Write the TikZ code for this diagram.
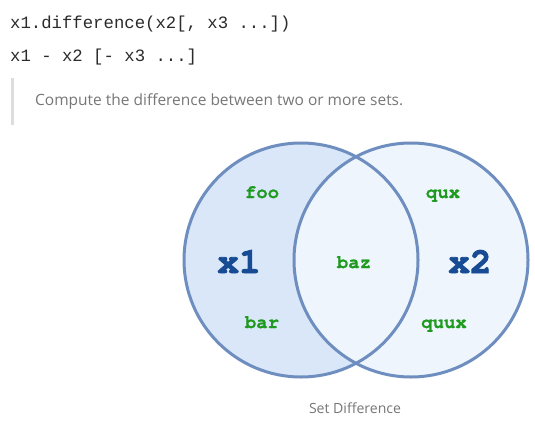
\documentclass[tikz,border=0pt]{standalone}
\usepackage{fontspec}
\setmonofont{Liberation Mono}
\setsansfont{Open Sans}
\newfontfamily\courierfont[BoldFeatures={FakeBold=0.8}]{TeX Gyre Cursor}
\newfontfamily\courierheavy[BoldFeatures={FakeBold=2.5}]{TeX Gyre Cursor}
\definecolor{codetext}{HTML}{2B2B2B}
\definecolor{desctext}{HTML}{777777}
\definecolor{barcol}{HTML}{DDDDDD}
\definecolor{leftfill}{HTML}{DAE7F9}
\definecolor{rightfill}{HTML}{EEF5FD}
\definecolor{ringcol}{HTML}{6E8EC0}
\definecolor{elemcol}{HTML}{1E9A1E}
\definecolor{setcol}{HTML}{174B94}
\tikzset{
  codeline/.style={anchor=west, inner sep=0pt, text=codetext, font=\ttfamily\fontsize{17.3}{20}\selectfont},
  elem/.style={inner sep=0pt, anchor=base, text=elemcol, font=\courierfont\bfseries\fontsize{19}{22}\selectfont},
  setname/.style={inner sep=0pt, anchor=base, text=setcol, font=\courierheavy\bfseries\fontsize{36}{40}\selectfont},
  ring/.style={draw=ringcol, line width=3pt},
}
\begin{document}
\begin{tikzpicture}[x=1pt,y=-1pt]
\useasboundingbox (0,0) rectangle (535,425);
\fill[white] (0,0) rectangle (535,425);
% code lines
\node[codeline] (sig) at (10,24) {x1.difference(x2[, x3 ...])};
\node[codeline] (op) at (10,57) {x1 - x2 [- x3 ...]};
% quote bar and description
\fill[barcol] (11,78) rectangle (14,125);
\node[anchor=west, inner sep=0pt, text=desctext] (desc) at (35,101)
  {\resizebox{368pt}{!}{\sffamily Compute the difference between two or more sets.}};
% circles
\fill[leftfill] (301,260) circle (117);
\fill[rightfill] (411,260) circle (117);
\draw[ring] (301,260) circle (117);
\draw[ring] (411,260) circle (117);
% labels
\node[elem] (foo) at (262,198) {foo};
\node[elem] (bar) at (262,328) {bar};
\node[elem] (baz) at (354,268) {baz};
\node[elem] (qux) at (443,198) {qux};
\node[elem] (quux) at (444,328) {quux};
\node[setname] (x1) at (239,273) {x1};
\node[setname] (x2) at (470,273) {x2};
\node[inner sep=0pt, text=desctext] (cap) at (355,408)
  {\resizebox{92pt}{!}{\sffamily Set Difference}};
\end{tikzpicture}
\end{document}
